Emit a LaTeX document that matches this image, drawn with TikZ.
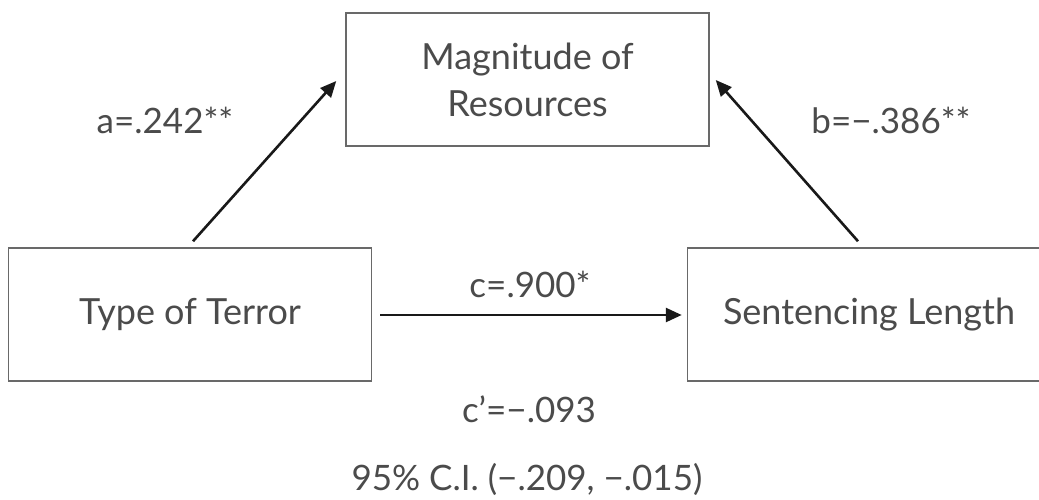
\documentclass[tikz,border=0pt]{standalone}
\usepackage{fontspec}
\setmainfont{Lato}
\usetikzlibrary{arrows.meta,calc}
\definecolor{txt}{RGB}{75,75,75}
\definecolor{boxline}{RGB}{105,105,105}
\definecolor{arr}{RGB}{25,25,25}
\begin{document}
\begin{tikzpicture}[x=1pt,y=-1pt,
  varbox/.style={draw=boxline,line width=1.5pt,minimum width=363pt,minimum height=133pt,
    inner sep=0pt,align=center,text=txt,font=\fontsize{36}{47}\selectfont},
  lab/.style={anchor=base,text=txt,inner sep=0pt,font=\fontsize{35}{40}\selectfont},
  path arrow/.style={draw=arr,line width=2.6pt,-{Triangle[length=16pt,width=14pt]}}]
\useasboundingbox[fill=white] (0,0) rectangle (1039,499);
\node[varbox] (T) at (527.5,79.5) {Magnitude of\\Resources};
\node[varbox] (L) at (190,314.5) {Type of Terror};
\node[varbox] (R) at (869,314.5) {Sentencing Length};
\draw[path arrow] ($(L.north)+(3,-6)$) -- ($(T.west)+(-9,1.5)$);
\draw[path arrow] ($(R.north)+(-11,-6)$) -- ($(T.east)+(6,0.5)$);
\draw[path arrow] ($(L.east)+(8,0.5)$) -- ($(R.west)+(-5,0.5)$);
\node[lab] (la) at (165,133) {a=.242**};
\node[lab] (lb) at (891,133) {b=−.386**};
\node[lab] (lc) at (530,297) {c=.900*};
\node[lab] (lcp) at (529,422) {c’=−.093};
\node[lab] (lci) at (527,490) {95\% C.I. (−.209, −.015)};
\end{tikzpicture}
\end{document}
